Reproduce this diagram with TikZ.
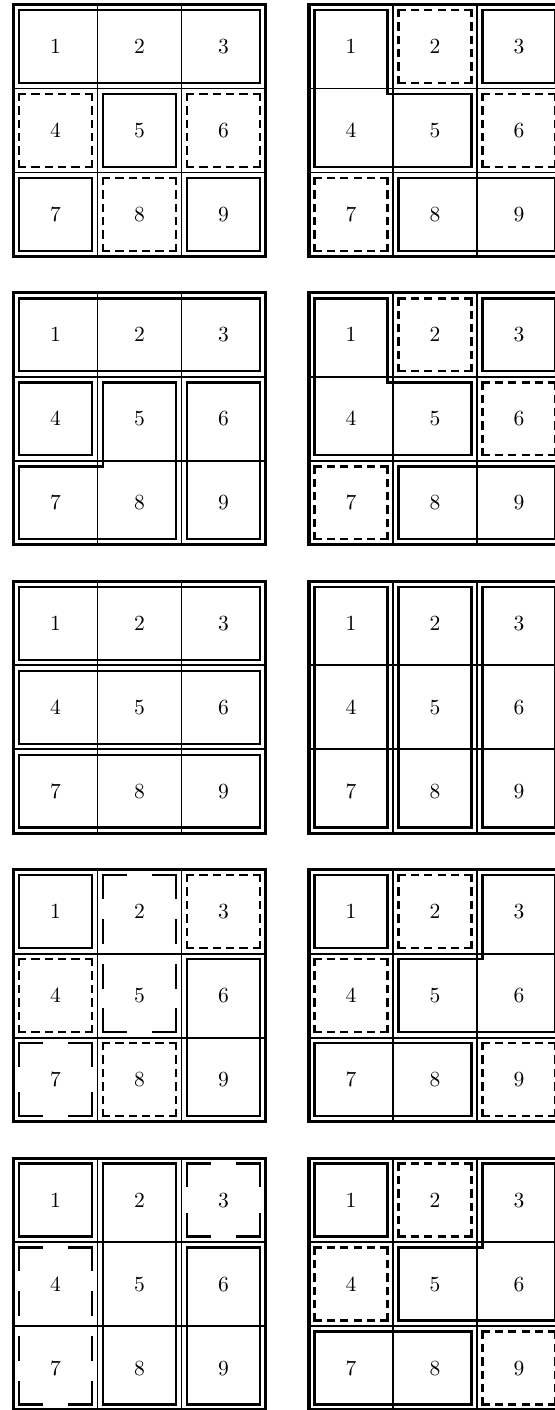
\documentclass[tikz,border=0pt]{standalone}
\usepackage{amsmath,amssymb}
\usepackage{tikz}
\usetikzlibrary{calc}

% 3x3 board: cell lines, frame and the numbers 1..9
\newcommand{\board}[1]{%
  \draw[cellline] (1.5,0) -- (1.5,4.5) (3,0) -- (3,4.5) (0,1.5) -- (4.5,1.5) (0,3) -- (4.5,3);
  \draw[frame] (0,0) rectangle (4.5,4.5);
  \foreach \k in {1,...,9}
    \node[num] (#1-\k) at ({1.5*mod(\k-1,3)+0.75},{1.5*floor((\k-1)/3)+0.75}) {$\k$};}
% block from cell #1 to cell #2, set in from the cell lines
\newcommand{\blk}[2]{%
  \draw[part] ({1.5*mod(#1-1,3)+0.1},{1.5*floor((#1-1)/3)+0.1}) rectangle
    ({1.5*mod(#2-1,3)+1.4},{1.5*floor((#2-1)/3)+1.4});}
% one dashed side: dashes of #1pt, gaps stretched so both ends get a dash
\newcommand{\dside}[5]{%
  \pgfmathsetmacro\len{(#5)*28.4527}%
  \pgfmathsetmacro\nd{floor((\len+#2)/(#1+#2))}%
  \pgfmathsetmacro\gap{(\len-\nd*#1)/(\nd-1)}%
  \draw[part,line cap=rect,dash pattern=on #1pt off \gap pt] #3 -- #4;}
% dashed block: dash #1, gap about #2, from cell #3 to cell #4
\newcommand{\dblk}[4]{%
  \pgfmathsetmacro\xa{1.5*mod(#3-1,3)+0.1}\pgfmathsetmacro\ya{1.5*floor((#3-1)/3)+0.1}%
  \pgfmathsetmacro\xb{1.5*mod(#4-1,3)+1.4}\pgfmathsetmacro\yb{1.5*floor((#4-1)/3)+1.4}%
  \dside{#1}{#2}{(\xa,\ya)}{(\xb,\ya)}{\xb-\xa}
  \dside{#1}{#2}{(\xb,\ya)}{(\xb,\yb)}{\yb-\ya}
  \dside{#1}{#2}{(\xb,\yb)}{(\xa,\yb)}{\xb-\xa}
  \dside{#1}{#2}{(\xa,\yb)}{(\xa,\ya)}{\yb-\ya}}
\newcommand{\sblk}[2]{\dblk{3}{3.6}{#1}{#2}}   % short dashes
\newcommand{\lblk}[2]{\dblk{11.5}{11}{#1}{#2}} % long dashes

\begin{document}
\begin{tikzpicture}[x=1cm,y=-1cm,
  num/.style={font=\fontsize{11}{13}\selectfont},
  part/.style={very thick},
  cellline/.style={line width=1pt},
  frame/.style={ultra thick}]
\useasboundingbox (0,0) rectangle (9.911,25.179);
\clip (0,0) rectangle (9.911,25.179);

% first row
\begin{scope}[shift={(0.241,0.08)}]
\board{a}
\blk{1}{3} \sblk{4}{4} \blk{5}{5} \sblk{6}{6}
\blk{7}{7} \sblk{8}{8} \blk{9}{9}
\end{scope}
\begin{scope}[shift={(5.518,0.08)}]
\board{b}
\draw[part] (0.1,0.1) -- (1.4,0.1) -- (1.4,1.6) -- (2.9,1.6) -- (2.9,2.9) -- (0.1,2.9) -- cycle;
\sblk{2}{2} \blk{3}{3} \sblk{6}{6} \sblk{7}{7} \blk{8}{9}
\end{scope}

% second row
\begin{scope}[shift={(0.241,5.23)}]
\board{c}
\blk{1}{3} \blk{4}{4} \blk{6}{9}
\draw[part] (1.6,1.6) -- (2.9,1.6) -- (2.9,4.4) -- (0.1,4.4) -- (0.1,3.1) -- (1.6,3.1) -- cycle;
\end{scope}
\begin{scope}[shift={(5.518,5.23)}]
\board{d}
\draw[part] (0.1,0.1) -- (1.4,0.1) -- (1.4,1.6) -- (2.9,1.6) -- (2.9,2.9) -- (0.1,2.9) -- cycle;
\sblk{2}{2} \blk{3}{3} \sblk{6}{6} \sblk{7}{7} \blk{8}{9}
\end{scope}

% third row
\begin{scope}[shift={(0.241,10.38)}]
\board{e}
\blk{1}{3} \blk{4}{6} \blk{7}{9}
\end{scope}
\begin{scope}[shift={(5.518,10.38)}]
\board{f}
\blk{1}{7} \blk{2}{8} \blk{3}{9}
\end{scope}

% fourth row
\begin{scope}[shift={(0.241,15.53)}]
\board{g}
\blk{1}{1} \lblk{2}{5} \sblk{3}{3} \sblk{4}{4}
\blk{6}{9} \lblk{7}{7} \sblk{8}{8}
\end{scope}
\begin{scope}[shift={(5.518,15.53)}]
\board{h}
\blk{1}{1} \sblk{2}{2} \sblk{4}{4} \blk{7}{8} \sblk{9}{9}
\draw[part] (3.1,0.1) -- (4.4,0.1) -- (4.4,2.9) -- (1.6,2.9) -- (1.6,1.6) -- (3.1,1.6) -- cycle;
\end{scope}

% fifth row
\begin{scope}[shift={(0.241,20.68)}]
\board{i}
\blk{1}{1} \blk{2}{8} \lblk{3}{3} \lblk{4}{7} \blk{6}{9}
\end{scope}
\begin{scope}[shift={(5.518,20.68)}]
\board{j}
\blk{1}{1} \sblk{2}{2} \sblk{4}{4} \blk{7}{8} \sblk{9}{9}
\draw[part] (3.1,0.1) -- (4.4,0.1) -- (4.4,2.9) -- (1.6,2.9) -- (1.6,1.6) -- (3.1,1.6) -- cycle;
\end{scope}
\end{tikzpicture}
\end{document}
